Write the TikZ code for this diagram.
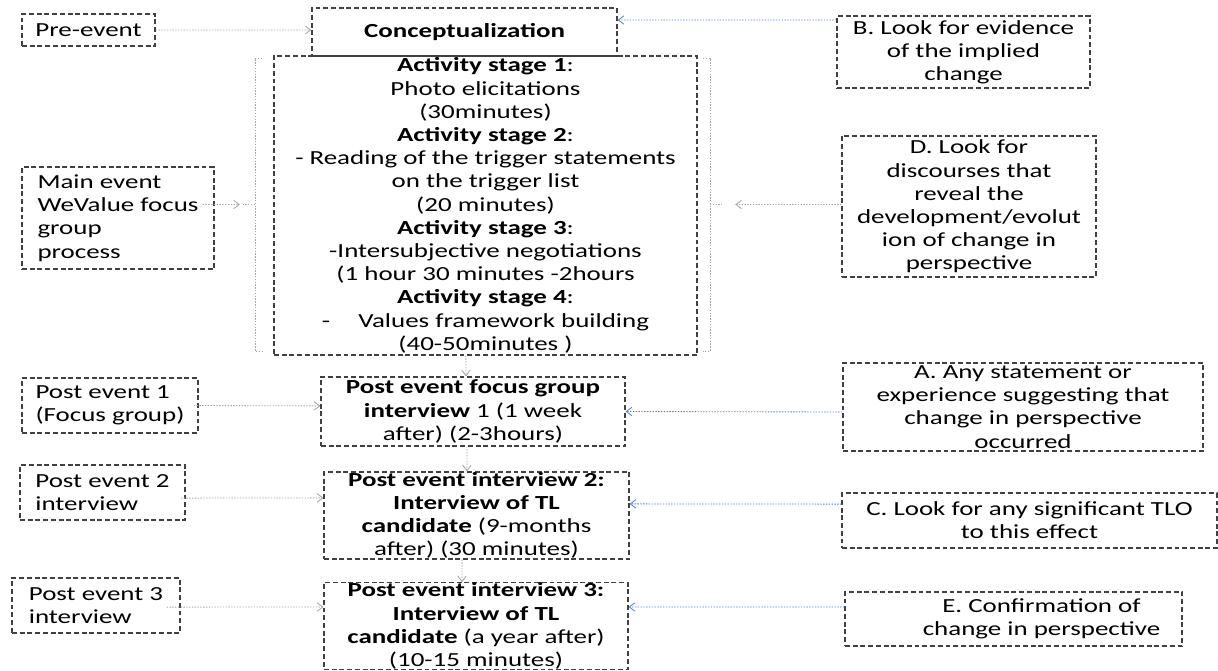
\documentclass[tikz,border=0pt]{standalone}
\usepackage{fontspec}
\setmainfont{Carlito}[FakeStretch=1.35]
\usetikzlibrary{arrows.meta}
\definecolor{linkblue}{RGB}{84,130,200}

\begin{document}
\begin{tikzpicture}[x=0.025cm, y=-0.025cm,
  box/.style={draw=black!75, line width=0.8pt, dash pattern=on 3.5pt off 2pt,
    inner sep=0pt, font=\fontsize{14.2}{16.5}\selectfont},
  wh/.style 2 args={minimum width=#1cm, minimum height=#2cm},
  grayarr/.style={draw=gray!70, line width=0.6pt, dash pattern=on 1pt off 1pt,
    -{Straight Barb[length=4pt,width=6pt]}},
  bluearr/.style={grayarr, draw=linkblue},
  bracket/.style={draw=gray!70, line width=0.5pt, dash pattern=on 1pt off 1pt}]
\useasboundingbox (0,0) rectangle (1218,671);

% left column
\node[box, wh={3.325}{0.8}, align=left] (pre) at (88.5,30) {Pre-event};
\node[box, wh={4.8}{2.55}, align=left] (main) at (118,218) {Main event\\WeValue focus\\group\\process};
\node[box, wh={4.4}{1.375}, align=left] (post1L) at (110,405.5) {Post event 1\\(Focus group)};
\node[box, wh={4.125}{1.375}, align=left] (post2L) at (102.5,492.5) {Post event 2\\interview};
\node[box, wh={4.2}{1.375}, align=left] (post3L) at (96,605.5) {Post event 3\\interview};

% middle column
\node[box, wh={7.625}{1.2}] (conc) at (464.5,32) {\textbf{Conceptualization}};
\node[box, wh={10.575}{7.475}, align=center] (act) at (485.5,205.5) {%
  \textbf{Activity stage 1}:\\Photo elicitations\\(30minutes)\\
  \textbf{Activity stage 2}:\\- Reading of the trigger statements\\on the trigger list\\(20 minutes)\\
  \textbf{Activity stage 3}:\\-Intersubjective negotiations\\(1 hour 30 minutes -2hours\\
  \textbf{Activity stage 4}:\\-\hspace{0.55cm} Values framework building\\(40-50minutes )};
\node[box, wh={7.6}{1.725}, align=center] (post1) at (473,411.5) {%
  \textbf{Post event focus group}\\\textbf{interview} 1 (1 week\\after) (2-3hours)};
\node[box, wh={7.625}{2.175}, align=center] (post2) at (476.5,515.5) {%
  \textbf{Post event interview 2:}\\\textbf{Interview of TL}\\\textbf{candidate} (9-months\\after) (30 minutes)};
\node[box, wh={7.6}{2.15}, align=center] (post3) at (476,626) {%
  \textbf{Post event interview 3:}\\\textbf{Interview of TL}\\\textbf{candidate} (a year after)\\(10-15 minutes)};

% right column
\node[box, wh={6.325}{1.8}, align=center] (B) at (963.5,52) {B. Look for evidence\\of the implied\\change};
\node[box, wh={6.35}{3.525}, align=center] (D) at (969,206.5) {D. Look for\\discourses that\\reveal the\\development/evolut\\ion of change in\\perspective};
\node[box, wh={9.0}{2.2}, align=center] (A) at (1023,407) {A. Any statement or\\experience suggesting that\\change in perspective\\occurred};
\node[box, wh={9.375}{1.375}, align=center] (C) at (1029.5,520.5) {C. Look for any significant TLO\\to this effect};
\node[box, wh={8.425}{1.35}, align=center] (E) at (1013.5,619) {\hspace*{1.4cm}E. Confirmation of\\\hspace*{1.4cm}change in perspective};

% brackets round the activity stages
\draw[bracket] (262,58) -- (255,58) -- (255,351) -- (262,351);
\draw[bracket] (703,58) -- (710,58) -- (710,351) -- (703,351);
\coordinate (brL) at (243,204.5);
\coordinate (brR) at (722,204.5);
\draw[bracket] (255,204.5) -- (brL);
\draw[bracket] (710,204.5) -- (brR);

% connectors
\draw[grayarr] (pre.east) -- ([yshift=0.05cm]conc.west);
\draw[grayarr, shorten >=0.075cm] ([xshift=-0.3cm,yshift=0.34cm]main.east) -- (brL);
\draw[grayarr, shorten >=0.33cm] ([yshift=0.05cm]D.west) -- (brR);
\draw[bluearr] ([yshift=0.8cm]B.west) -- ([yshift=0.3cm]conc.east);

\draw[grayarr] ([xshift=-0.49cm]act.south) -- ([xshift=-0.175cm]post1.north);
\draw[grayarr] ([xshift=-0.15cm]post1.south) -- ([xshift=-0.24cm]post2.north);
\draw[grayarr] ([xshift=-0.36cm]post2.south) -- ([xshift=-0.35cm]post3.north);

\draw[grayarr] ([xshift=-0.12cm]post1L.east) -- ([yshift=0.14cm]post1.west);
\draw[grayarr] ([xshift=-0.12cm,yshift=-0.14cm]post2L.east) -- ([yshift=0.44cm]post2.west);
\draw[grayarr] ([xshift=-0.35cm,yshift=-0.04cm]post3L.east) -- ([yshift=0.475cm]post3.west);

\draw[bluearr] ([yshift=-0.125cm]A.west) -- (post1.east);
\draw[bluearr] ([yshift=0.41cm]C.west) -- ([yshift=0.29cm]post2.east);
\draw[bluearr] ([yshift=0.3cm]E.west) -- ([yshift=0.475cm]post3.east);

\end{tikzpicture}
\end{document}
